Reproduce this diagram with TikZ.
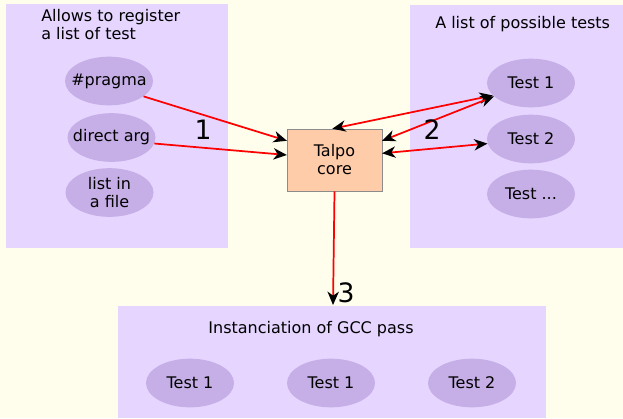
\documentclass[tikz,border=0pt]{standalone}
\usepackage{fontspec}
\setmainfont{DejaVu Sans}
\usetikzlibrary{positioning}
\usetikzlibrary{arrows.meta}
\usetikzlibrary{calc, shapes}
\definecolor{paper}{HTML}{FFFDEB}
\definecolor{lilac}{HTML}{E5D5FF}
\definecolor{lilacDark}{HTML}{C6AEE6}
\definecolor{peach}{HTML}{FFCCAA}
\tikzset{%
	% Specifications for style of nodes:
	base/.style = {font=\fontsize{12}{13.5}\selectfont, text=black},
	testNode/.style = {base, ellipse, fill=lilacDark, draw=none,
		minimum width=66pt, minimum height=36.5pt, inner xsep=-6pt, inner ysep=-2pt, align=center},
	coreNode/.style = {base, rectangle, fill=peach, draw=black!45, line width=0.4pt,
		minimum width=71pt, minimum height=46.5pt, align=center},
	stepLabel/.style = {font=\fontsize{20}{24}\selectfont, text=black},
	link/.style = {draw=red, line width=1.3pt, -{Stealth[black, length=10pt, width=8.5pt, inset=3pt]}},
	twoWay/.style = {link,
		{Stealth[black, length=10pt, width=8.5pt, inset=3pt]}-{Stealth[black, length=10pt, width=8.5pt, inset=3pt]}},
}

\begin{document}
\begin{tikzpicture}[x=0.75pt, y=-0.75pt]
	
	% background and the three panels
	\fill[paper] (0,0) rectangle (623,418);
	\useasboundingbox (0,0) rectangle (623,418);
	\fill[lilac] (6,4) rectangle (228,248);
	\fill[lilac] (410,5) rectangle (623,248);
	\fill[lilac] (118,306) rectangle (546,418);
	\coordinate (passTop) at (333,305);
	
	% panel titles
	\node (srcTitle) [base, anchor=base west, align=left, inner sep=0pt] at (41,39) {Allows to register\\a list of test};
	\node (testTitle) [base, anchor=base west, inner sep=0pt] at (435,28) {A list of possible tests};
	\node (passTitle) [base, anchor=base, inner sep=0pt] at (311,333) {Instanciation of GCC pass};
	
	% ways to register
	\node (pragma) [testNode] at (109,81) {\#pragma};
	\node (dirArg) [testNode] at (111.5,137.5) {direct arg};
	\node (inFile) [testNode] at (109.5,192.5) {list in\\a file};
	
	% core
	\node (talpo) [coreNode] at (334.5,160) {Talpo\\core};
	
	% possible tests
	\node (testOne) [testNode] at (531,83) {Test 1};
	\node (testTwo) [testNode] at (531,139) {Test 2};
	\node (testMore) [testNode] at (531,194) {Test ...};
	
	% pass instances
	\node (passA) [testNode] at (190,383) {Test 1};
	\node (passB) [testNode] at (331,383) {Test 1};
	\node (passC) [testNode] at (472,383) {Test 2};
	
	% connections
	\draw [link] (pragma.-24) -- (talpo.158);
	\draw [link] (dirArg.-8) -- (talpo.174);
	\draw [twoWay] (talpo.94) -- (testOne.198);
	\draw [twoWay] (talpo.22) -- (testOne.200);
	\draw [twoWay] (talpo.8) -- (testTwo.186);
	\draw [link] (talpo.south) -- (passTop);
	
	\node (one) [stepLabel] at (203,130) {1};
	\node (two) [stepLabel] at (432,130) {2};
	\node (three) [stepLabel] at (346,293) {3};
\end{tikzpicture}
\end{document}
